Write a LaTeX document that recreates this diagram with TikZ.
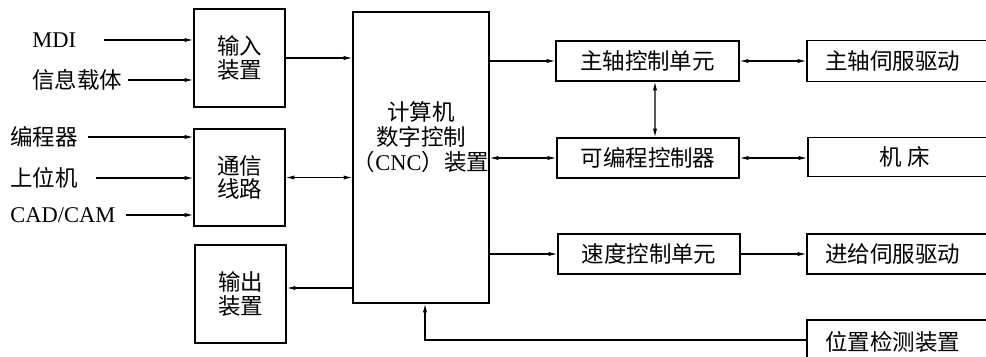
\documentclass[tikz,border=0pt]{standalone}
\usepackage{fontspec}
\setmainfont{Liberation Serif}
\newfontfamily\cjk{Noto Sans CJK SC}
\newcommand\zh[1]{{\cjk #1}}
\usetikzlibrary{arrows.meta}
\begin{document}
\begin{tikzpicture}[x=0.02cm,y=-0.02cm,
  box/.style={draw, line width=0.8pt, inner sep=0pt, align=center,
    font=\fontsize{12.8}{13.5}\selectfont},
  lbl/.style={inner sep=0pt, anchor=west, font=\fontsize{12.8}{14}\selectfont},
  arr/.style={line width=0.6pt, -{Latex[length=5pt,width=2.4pt]}},
  darr/.style={line width=0.6pt, {Latex[length=5pt,width=2.4pt]}-{Latex[length=5pt,width=2.4pt]}}]
\clip (0,0) rectangle (986,357);
\fill[white] (0,0) rectangle (986,357);
% left column boxes
\node[box, minimum width=1.82cm, minimum height=1.96cm] (in) at (239.5,58) {\zh{输入}\\\zh{装置}};
\node[box, minimum width=1.82cm, minimum height=1.94cm] (comm) at (239.5,177.5) {\zh{通信}\\\zh{线路}};
\node[box, minimum width=1.82cm, minimum height=1.96cm] (out) at (240.5,294) {\zh{输出}\\\zh{装置}};
% CNC
\node[box, minimum width=2.72cm, minimum height=5.82cm] (cnc) at (421,157.5) {};
\node[inner sep=0pt, align=center, font=\fontsize{12.8}{14}\selectfont] (cnct) at (421,137)
  {\zh{计算机}\\\zh{数字控制}\\\zh{（}CNC\zh{）装置}};
% middle column
\node[box, minimum width=3.66cm, minimum height=0.8cm] (zk) at (647.5,61) {\zh{主轴控制单元}};
\node[box, minimum width=3.64cm, minimum height=0.8cm] (plc) at (648,158) {\zh{可编程控制器}};
\node[box, minimum width=3.64cm, minimum height=0.8cm] (sd) at (649,254) {\zh{速度控制单元}};
% right column (clipped at right edge)
\node[box, minimum width=3.86cm, minimum height=0.82cm] (zs) at (903.5,61) {\zh{主轴伺服驱动}\hspace*{12pt}};
\node[box, minimum width=3.86cm, minimum height=0.78cm] (jc) at (904.5,157) {\zh{机\hspace{3pt}床}};
\node[box, minimum width=3.86cm, minimum height=0.8cm] (jg) at (903.5,254) {\zh{进给伺服驱动}\hspace*{12pt}};
\node[box, minimum width=3.86cm, minimum height=0.88cm] (pos) at (903.5,342) {\zh{位置检测装置}\hspace*{12pt}};
% left labels
\node[lbl] (mdi) at (32,40) {MDI};
\node[lbl] (xx) at (32,80) {\zh{信息载体}};
\node[lbl] (bc) at (10,137) {\zh{编程器}};
\node[lbl] (sw) at (10,178) {\zh{上位机}};
\node[lbl] (cad) at (10,215) {CAD/CAM};
% input arrows
\draw[arr] ([shift={(28,0)}]mdi.east) -- (mdi -| in.west);
\draw[arr] ([shift={(5,0)}]xx.east) -- (xx -| in.west);
\draw[arr] ([shift={(10,0)}]bc.east) -- (bc -| comm.west);
\draw[arr] ([shift={(18,0)}]sw.east) -- (sw -| comm.west);
\draw[arr] ([shift={(10,0)}]cad.east) -- (cad -| comm.west);
% left to CNC
\draw[arr] (in.east) -- (in.east -| cnc.west);
\draw[darr] (comm.east) -- (comm.east -| cnc.west);
\draw[arr] ([shift={(0,-6)}]out.east -| cnc.west) -- ([shift={(0,-6)}]out.east);
% CNC to middle
\draw[arr] (zk.west -| cnc.east) -- (zk.west);
\draw[darr] (plc.west -| cnc.east) -- (plc.west);
\draw[arr] (sd.west -| cnc.east) -- (sd.west);
\draw[darr] ([shift={(7.5,0)}]zk.south) -- ([shift={(7,0)}]plc.north);
% middle to right
\draw[darr] (zk.east) -- (zk.east -| zs.west);
\draw[darr] (plc.east) -- (plc.east -| jc.west);
\draw[arr] (sd.east) -- (sd.east -| jg.west);
% feedback
\draw[arr] ([shift={(0,-2)}]pos.west) -| ([shift={(4,0)}]cnc.south);
\end{tikzpicture}
\end{document}
